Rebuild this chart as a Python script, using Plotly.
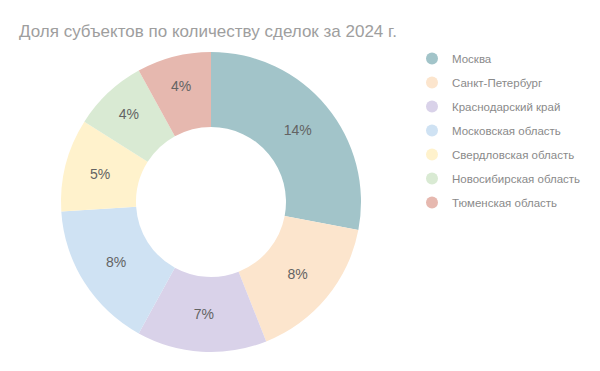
import plotly.graph_objects as go

regions = ["Москва", "Санкт-Петербург", "Краснодарский край", "Московская область",
           "Свердловская область", "Новосибирская область", "Тюменская область"]
shares = [14, 8, 7, 8, 5, 4, 4]
colors = ["#A2C4C9", "#FCE5CD", "#D9D2E9", "#CFE2F3", "#FFF2CC", "#D9EAD3", "#E6B8AF"]
title_text = "Доля субъектов по количеству сделок за 2024 г."

W, H = 600, 371
off = 8  # page body margin
cx, cy, r = 211 - off, 202 - off, 150

fig = go.Figure()
fig.add_trace(go.Pie(
    labels=regions, values=shares, sort=False, direction="clockwise", rotation=0,
    hole=0.5, marker=dict(colors=colors, line=dict(width=0)),
    texttemplate="%{value}%", textposition="inside", insidetextorientation="horizontal",
    textfont=dict(family="Liberation Sans, Arial", size=14, color="#636363"),
    showlegend=False, hoverinfo="label+value",
    domain=dict(x=[(cx - r) / W, (cx + r) / W], y=[(H - cy - r) / H, (H - cy + r) / H]),
))
for name, col in zip(regions, colors):
    fig.add_trace(go.Scatter(x=[None], y=[None], mode="markers", name=name,
                             legendgroup=name,
                             marker=dict(symbol="circle", size=12, color=col)))

fig.update_layout(
    width=W, height=H, margin=dict(l=0, r=0, t=0, b=0),
    paper_bgcolor="white", plot_bgcolor="white",
    title=dict(text=title_text, x=(19 - off) / W, xanchor="left", y=1 - (31 - off) / H,
               yanchor="middle",
               font=dict(family="Liberation Sans, Arial", size=17, color="#9E9E9E")),
    xaxis=dict(visible=False), yaxis=dict(visible=False),
    legend=dict(x=404 / W, xanchor="left", y=1 - 36 / H, yanchor="top",
                font=dict(family="Liberation Sans, Arial", size=11.5, color="#8A8A8A"),
                tracegroupgap=5, itemsizing="constant", bgcolor="rgba(0,0,0,0)"),
)
fig.write_html("out.html")
